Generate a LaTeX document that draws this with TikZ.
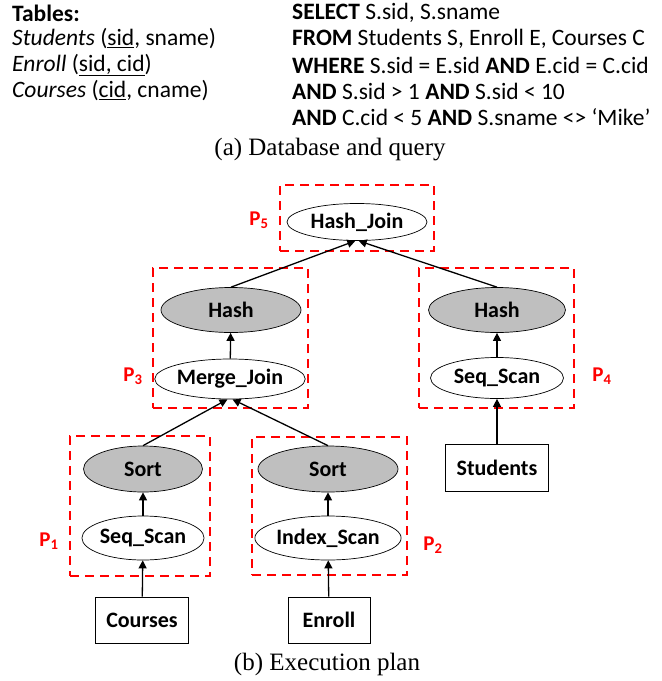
\documentclass[tikz,border=0pt]{standalone}
\usepackage{fontspec}
\setmainfont{Liberation Serif}
\newfontfamily\calib{Carlito}
\usetikzlibrary{arrows.meta,positioning,shapes.geometric}

\def\txtfont{\calib\fontsize{23.5}{26}\selectfont}

\begin{document}
\begin{tikzpicture}[x=1pt,y=-1pt,
  op/.style={draw,ellipse,line width=0.7pt,inner sep=0pt,
    font=\calib\bfseries\fontsize{22}{24}\selectfont},
  opg/.style={op,fill=black!25},
  tbl/.style={draw,rectangle,line width=0.7pt,inner sep=0pt,
    font=\calib\bfseries\fontsize{22}{24}\selectfont},
  part/.style={draw=red,dashed,line width=1.4pt,dash pattern=on 9pt off 6pt,
    rectangle,inner sep=0pt},
  plabel/.style={text=red,font=\calib\bfseries\fontsize{21}{24}\selectfont},
  flow/.style={-{Triangle[length=8pt,width=8pt]},line width=1.3pt},
  line/.style={anchor=west,inner sep=0pt,font=\txtfont},
  captext/.style={font=\fontsize{25}{28}\selectfont}]
\useasboundingbox (0,0) rectangle (662,681);

% database and query
\node[line] (tabs) at (12,13) {\textbf{Tables:}};
\node[line] (stud) at (12,39) {\textit{Students} (\underline{sid}, sname)};
\node[line] (enr) at (12,65) {\textit{Enroll} (\underline{sid, cid})};
\node[line] (crs) at (12,91) {\textit{Courses} (\underline{cid}, cname)};

\node[line] (q1) at (292,13) {\textbf{SELECT} S.sid, S.sname};
\node[line] (q2) at (292,39) {\textbf{FROM} Students S, Enroll E, Courses C};
\node[line] (q3) at (292,65) {\textbf{WHERE} S.sid = E.sid \textbf{AND} E.cid = C.cid};
\node[line] (q4) at (292,91) {\textbf{AND} S.sid > 1 \textbf{AND} S.sid < 10};
\node[line] (q5) at (292,117) {\textbf{AND} C.cid < 5 \textbf{AND} S.sname <> ‘Mike’};

\node[captext] (capa) at (330,150) {(a)\ Database and query};

% execution plan
\node[part,minimum width=154pt,minimum height=66pt] (p5) at (357,218) {};
\node[part,minimum width=155pt,minimum height=140pt] (p3) at (230.5,338) {};
\node[part,minimum width=155pt,minimum height=140pt] (p4) at (496.5,338) {};
\node[part,minimum width=140pt,minimum height=140pt] (p1) at (140,506) {};
\node[part,minimum width=155pt,minimum height=138pt] (p2) at (329.5,506) {};

\node[plabel] (l5) at (259,220) {P\textsubscript{5}};
\node[plabel] (l3) at (133,376) {P\textsubscript{3}};
\node[plabel] (l4) at (602,376) {P\textsubscript{4}};
\node[plabel] (l1) at (49,541) {P\textsubscript{1}};
\node[plabel] (l2) at (433,545) {P\textsubscript{2}};

\node[op,minimum width=140pt,minimum height=37pt] (hj) at (357,222) {Hash\_Join};
\node[opg,minimum width=140pt,minimum height=45pt] (hashl) at (231,310) {Hash};
\node[op,minimum width=150pt,minimum height=40pt] (mj) at (230,379) {Merge\_Join};
\node[opg,minimum width=137pt,minimum height=45pt] (hashr) at (497,310) {Hash};
\node[op,minimum width=133pt,minimum height=41pt] (ssr) at (497,378) {Seq\_Scan};
\node[tbl,minimum width=103pt,minimum height=47pt] (students) at (497,468) {Students};

\node[opg,minimum width=119pt,minimum height=46pt] (sortl) at (143,469) {Sort};
\node[op,minimum width=119pt,minimum height=44pt] (ssl) at (143,538) {Seq\_Scan};
\node[tbl,minimum width=93pt,minimum height=46pt] (courses) at (142,620) {Courses};
\node[opg,minimum width=140pt,minimum height=46pt] (sortr) at (328,469) {Sort};
\node[op,minimum width=140pt,minimum height=44pt] (isc) at (328,538) {Index\_Scan};
\node[tbl,minimum width=82pt,minimum height=46pt] (enroll) at (329,620) {Enroll};

\draw[flow] (hashl.north) -- (hj.265);
\draw[flow] (hashr.north) -- (hj.275);
\draw[flow] (mj) -- (hashl);
\draw[flow] (ssr) -- (hashr);
\draw[flow] (students) -- (ssr);
\draw[flow] (sortl.north) -- (mj.263);
\draw[flow] (sortr.north) -- (mj.277);
\draw[flow] (ssl) -- (sortl);
\draw[flow] (courses) -- (ssl);
\draw[flow] (isc) -- (sortr);
\draw[flow] (enroll) -- (isc);

\node[captext] (capb) at (327,664) {(b)\ Execution plan};
\end{tikzpicture}
\end{document}
